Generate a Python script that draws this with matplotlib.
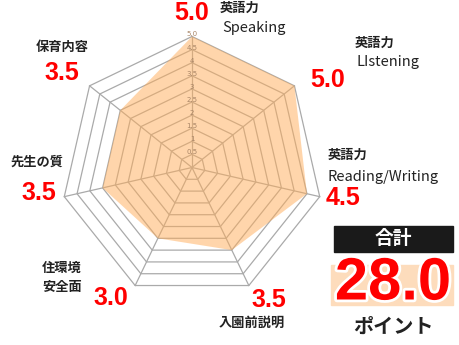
import numpy as np
import matplotlib
matplotlib.use("Agg")
import matplotlib.pyplot as plt
import matplotlib.patheffects as pe

plt.rcParams['font.family'] = ['Noto Sans CJK JP', 'DejaVu Sans']

# data
categories = ["英語力\nSpeaking", "英語力\nLIstening", "英語力\nReading/Writing",
              "入園前説明", "住環境\n安全面", "先生の質", "保育内容"]
scores = [5.0, 5.0, 4.5, 3.5, 3.0, 3.5, 3.5]
ring_levels = [0.5, 1.0, 1.5, 2.0, 2.5, 3.0, 3.5, 4.0, 4.5, 5.0]
ring_labels = ["0.5", "1", "1.5", "2", "2.5", "3", "3.5", "4", "4.5", "5.0"]
total_label = "合計"
unit_label = "ポイント"

W, H = 460, 345
CX, CY = 192, 167.5      # chart centre in pixels (from top-left)
SCALE = 131 / 5.0        # pixels per score unit

fig = plt.figure(figsize=(W / 100, H / 100), dpi=100)
ax = fig.add_axes([0, 0, 1, 1])
ax.set_xlim(-CX / SCALE, (W - CX) / SCALE)
ax.set_ylim(-(H - CY) / SCALE, CY / SCALE)
ax.axis('off')

n = len(scores)
angles = np.pi / 2 - 2 * np.pi * np.arange(n) / n
ux, uy = np.cos(angles), np.sin(angles)

grid_col = '#aaaaaa'
for lv in ring_levels:
    ax.plot(np.append(ux, ux[0]) * lv, np.append(uy, uy[0]) * lv,
            color=grid_col, lw=0.9, zorder=1)
for i in range(n):
    ax.plot([0, ux[i] * 5.0], [0, uy[i] * 5.0], color=grid_col, lw=0.9, zorder=1)

vals = np.array(scores)
ax.fill(ux * vals, uy * vals, color='#ffad59', alpha=0.5, lw=0, zorder=2)

for lv, lab in zip(ring_levels, ring_labels):
    ax.text(0, lv + 0.08, lab, ha='center', va='center', fontsize=5,
            color='#a88465', family=['DejaVu Sans'], zorder=3)


def px(x, y):
    return x / W, 1 - y / H


red = '#ff0000'
dark = '#222222'
num_font = ['Liberation Sans', 'DejaVu Sans']

# category labels: (jp line, en line, position) and score positions
label_pos = [
    ((220, 8), (222, 28), 'left'),
    ((355, 43), (357, 62), 'left'),
    ((328, 155), (328, 177), 'left'),
    ((252, 323), None, 'center'),
    ((62, 268), (62, 287), 'center'),
    ((37, 162), None, 'center'),
    ((62, 47), None, 'center'),
]
score_pos = [(192, 13), (328, 80), (343, 198), (269, 300),
             (111, 298), (39, 193), (62, 73)]

for cat, (p1, p2, ha), sp, sc in zip(categories, label_pos, score_pos, scores):
    parts = cat.split("\n")
    fig.text(*px(*p1), parts[0], ha=ha, va='center', fontsize=9.5,
             fontweight='bold', color=dark)
    if len(parts) == 2 and parts[0] == "英語力":
        fig.text(*px(*p2), parts[1], ha=ha, va='center', fontsize=10.5,
                 color=dark)
    elif len(parts) == 2:
        fig.text(*px(*p2), parts[1], ha=ha, va='center', fontsize=9.5,
                 fontweight='bold', color=dark)
    fig.text(*px(*sp), f"{sc:.1f}", ha='center', va='center', fontsize=18,
             fontweight='bold', color=red, family=num_font)

# total box
fig.patches.append(plt.Rectangle(px(334, 252), 118.7 / W, 26.3 / H,
                                 transform=fig.transFigure, color='#1a1a1a'))
fig.text(*px(393, 239), total_label, ha='center', va='center', fontsize=13.5,
         fontweight='bold', color='white')
fig.patches.append(plt.Rectangle(px(331, 305), 121.7 / W, 40 / H,
                                 transform=fig.transFigure, color='#fddcbc'))
fig.text(*px(393, 284), f"{sum(scores):.1f}", ha='center', va='center',
         fontsize=43, fontweight='bold', color=red, family=num_font,
         path_effects=[pe.withStroke(linewidth=4, foreground='white')])
fig.text(*px(393, 326), unit_label, ha='center', va='center', fontsize=14.5,
         fontweight='bold', color=dark)

fig.savefig("out.png", dpi=100)
